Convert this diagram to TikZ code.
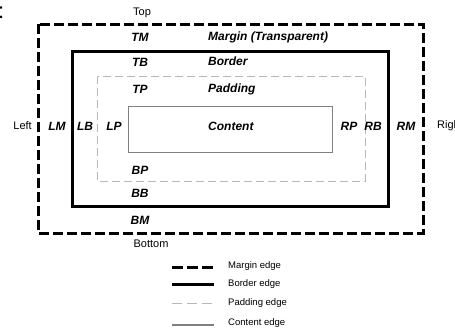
\documentclass[tikz,border=0pt]{standalone}
\usepackage{fontspec}
\setmainfont{Liberation Sans}
\begin{document}
\begin{tikzpicture}[x=1pt,y=-1pt,
  marginedge/.style={line width=3pt,dash pattern=on 10pt off 4pt},
  borderedge/.style={line width=3pt},
  paddingedge/.style={line width=0.9pt,draw=black!28,dash pattern=on 8pt off 4pt},
  contentedge/.style={line width=1pt,draw=black!50},
  code/.style={font=\fontsize{12}{13}\selectfont\bfseries\itshape,inner sep=0pt},
  word/.style={font=\fontsize{12}{13}\selectfont\bfseries\itshape,inner sep=0pt,anchor=west},
  side/.style={font=\fontsize{11}{12}\selectfont,inner sep=0pt},
  legtext/.style={font=\fontsize{9.5}{10}\selectfont,inner sep=0pt,anchor=west}]
\useasboundingbox (0,0) rectangle (455,330);
\node[font=\fontsize{22}{24}\selectfont,inner sep=0pt,anchor=base west] (colon) at (-2,18.5) {:};
% boxes
\draw[marginedge] (38,24) rectangle (423,233);
\draw[borderedge] (72,51) rectangle (388,206);
\draw[paddingedge] (97,76) rectangle (365,181);
\draw[contentedge] (128,106) rectangle (332,152);
% side labels
\node[side] (top) at (142,13) {Top};
\node[side] (bottom) at (151,244) {Bottom};
\node[side,anchor=east] (left) at (32,126) {Left};
\node[side,anchor=west] (right) at (437,126) {Right};
% codes
\node[code] (tm) at (140,37) {TM};
\node[code] (tb) at (140,62) {TB};
\node[code] (tp) at (140,89) {TP};
\node[code] (bp) at (140,170) {BP};
\node[code] (bb) at (140,193) {BB};
\node[code] (bm) at (140,220) {BM};
\node[code] (lm) at (57,126) {LM};
\node[code] (lb) at (85,126) {LB};
\node[code] (lp) at (114,126) {LP};
\node[code] (rp) at (349,126) {RP};
\node[code] (rb) at (373,126) {RB};
\node[code] (rm) at (406,126) {RM};
% words
\node[word] (wm) at (208,37) {Margin (Transparent)};
\node[word] (wb) at (208,61) {Border};
\node[word] (wp) at (208,89) {Padding};
\node[word] (wc) at (208,126) {Content};
% legend
\coordinate (l1a) at (172,267); \coordinate (l1b) at (214,267);
\coordinate (l2a) at (172,284); \coordinate (l2b) at (214,284);
\coordinate (l3a) at (172,303); \coordinate (l3b) at (214,303);
\coordinate (l4a) at (172,325); \coordinate (l4b) at (214,325);
\draw[line width=3pt,dash pattern=on 11pt off 4pt] (l1a) -- (l1b);
\draw[borderedge] (l2a) -- (l2b);
\draw[paddingedge,dash pattern=on 10pt off 5pt] (l3a) -- (l3b);
\draw[contentedge,line width=1.3pt] (l4a) -- (l4b);
\node[legtext] (t1) at (228,266) {Margin edge};
\node[legtext] (t2) at (228,284) {Border edge};
\node[legtext] (t3) at (228,303) {Padding edge};
\node[legtext] (t4) at (228,323) {Content edge};
\end{tikzpicture}
\end{document}
